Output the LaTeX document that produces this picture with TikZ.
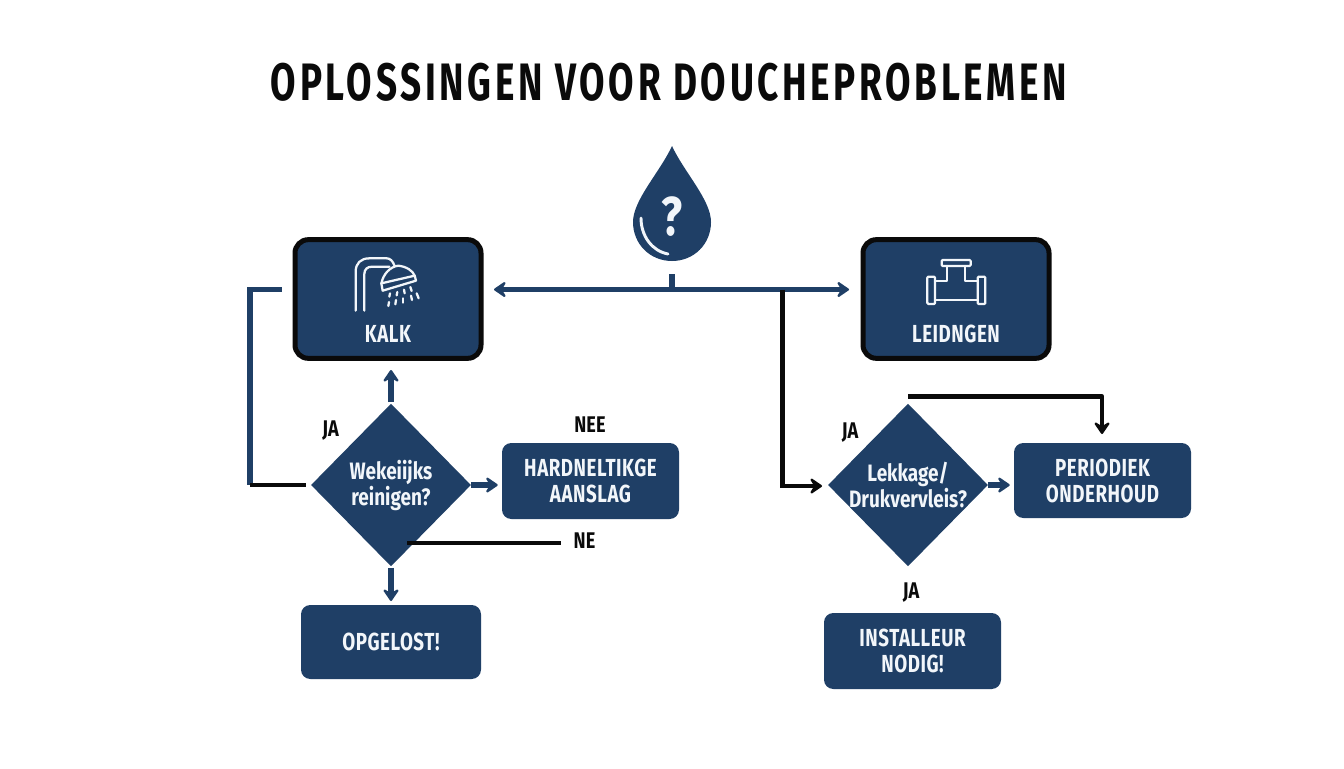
\documentclass[tikz,border=0pt]{standalone}
\usepackage{fontspec}
\usetikzlibrary{arrows.meta,shapes.geometric,calc}
\newfontfamily\cond[FakeStretch=0.76,LetterSpace=2.2]{Fira Sans}
\newfontfamily\condlow[FakeStretch=0.80]{Fira Sans}
\newfontfamily\condtitle[FakeStretch=0.70,LetterSpace=7]{Fira Sans}
\definecolor{navy}{HTML}{1F3F66}
\definecolor{ink}{HTML}{0A0A0A}
\definecolor{paper}{HTML}{F2F6FA}
\tikzset{
  x=0.75pt,y=-0.75pt,
  boxbase/.style={fill=navy,text=paper,align=center,inner sep=0pt,font=\cond\bfseries\fontsize{18.5}{19.5}\selectfont},
  bluebox/.style={boxbase,rounded corners=7pt},
  catbox/.style={boxbase,draw=ink,line width=3.75pt,rounded corners=10pt},
  decision/.style={diamond,fill=navy,inner sep=0pt,shape aspect=1},
  dectext/.style={text=paper,align=center,inner sep=0pt,font=\condlow\bfseries\fontsize{17.8}{19.5}\selectfont},
  tag/.style={text=ink,inner sep=0pt,font=\condlow\bfseries\fontsize{17}{18}\selectfont},
  navyline/.style={draw=navy,line width=3.8pt},
  blackline/.style={draw=ink,line width=3.3pt},
  navyarrow/.style={navyline,-{Stealth[length=11pt,width=15pt,inset=4.5pt,round]}},
  blackarrow/.style={blackline,-{Stealth[length=11pt,width=15pt,inset=4.5pt,round]}},
  iconline/.style={draw=paper,line width=1.7pt,line join=round,line cap=round},
}
\begin{document}
\begin{tikzpicture}
\useasboundingbox (0,0) rectangle (1344,768);
\fill[white] (0,0) rectangle (1344,768);

\node[text=ink,font=\condtitle\bfseries\fontsize{39.5}{44}\selectfont,inner sep=0pt] (title) at (669,82) {OPLOSSINGEN VOOR DOUCHEPROBLEMEN};

% drop
\fill[navy] (672,146) .. controls (660,172) and (633,200) .. (633,222)
  .. controls (633,244) and (650,261) .. (672,261)
  .. controls (694,261) and (711,244) .. (711,222)
  .. controls (711,200) and (684,172) .. (672,146) -- cycle;
\draw[draw=paper,line width=2.2pt,line cap=round] (641,218) .. controls (641,236) and (652,251) .. (668,254);
\node[text=paper,font=\condlow\bfseries\fontsize{41}{44}\selectfont,inner sep=0pt] (q) at (672,217) {?};

% category boxes
\node[catbox,minimum width=139.5pt,minimum height=89pt] (kalk) at (388,299) {};
\node[catbox,minimum width=139.5pt,minimum height=89pt] (leid) at (956,299) {};
\node[text=paper,inner sep=0pt,font=\cond\bfseries\fontsize{18.5}{19.5}\selectfont] (kalktext) at (388,334) {KALK};
\node[text=paper,inner sep=0pt,font=\cond\bfseries\fontsize{18.5}{19.5}\selectfont] (leidtext) at (956,334) {LEIDNGEN};

% shower icon
\begin{scope}[shift={(240,130)},x=0.25pt,y=-0.25pt]
  \draw[iconline] (347,542) -- (347,425) .. controls (347,400) and (362,385) .. (388,385) -- (440,385) .. controls (450,385) and (458,392) .. (464,408);
  \draw[iconline] (373,542) -- (373,432) .. controls (373,418) and (382,410) .. (396,410) -- (448,410);
  \draw[iconline] (424,460) .. controls (430,432) and (450,410) .. (475,407) .. controls (500,410) and (518,422) .. (524,437) -- cycle;
  \draw[iconline] (424,460) -- (428,482) -- (528,452) -- (524,437);
  \foreach \a/\b/\c/\d in {450/490/448/500,472/486/470/496,492/479/494/490,511/471/515/483,
    447/516/445/528,468/510/466/523,490/505/490/518,513/497/516/510,530/490/536/505}
    \draw[iconline] (\a,\b) -- (\c,\d);
\end{scope}

% pipe icon
\begin{scope}[shift={(770,230)},x=0.25pt,y=-0.25pt]
  \draw[iconline,rounded corners=0.8pt] (515,90) rectangle (602,108);
  \draw[iconline,rounded corners=0.8pt] (472,140) rectangle (495,222);
  \draw[iconline,rounded corners=0.8pt] (623,140) rectangle (646,222);
  \draw[iconline] (495,152) -- (532,152) -- (532,108);
  \draw[iconline] (586,108) -- (586,152) -- (623,152);
  \draw[iconline] (495,210) -- (623,210);
\end{scope}

% decisions
\node[decision,minimum width=120pt,minimum height=122pt,label={[dectext]center:Wekeiijks\\reinigen?}] (wk) at (391,485) {};
\node[decision,minimum width=120pt,minimum height=122pt,label={[dectext]center:Lekkage/\\Drukvervleis?}] (lk) at (908,485) {};

% result boxes
\node[bluebox,minimum width=132.75pt,minimum height=57pt] (hard) at (590.5,481) {HARDNELTIKGE\\AANSLAG};
\node[bluebox,minimum width=135pt,minimum height=55.5pt] (opg) at (391,642) {OPGELOST!};
\node[bluebox,minimum width=132.75pt,minimum height=56.25pt] (per) at (1102.5,480.5) {PERIODIEK\\ONDERHOUD};
\node[bluebox,minimum width=132.75pt,minimum height=57pt] (inst) at (912.5,651) {INSTALLEUR\\NODIG!};

% tags
\node[tag] (t1) at (330.5,430.5) {JA};
\node[tag] (t2) at (590,425) {NEE};
\node[tag] (t3) at (584.5,541) {NE};
\node[tag] (t4) at (850,432.5) {JA};
\node[tag] (t5) at (911,593) {JA};

% named ends and bends
\coordinate (bus) at (672,289.5);
\coordinate (stemtop) at (672,274);
\coordinate (kalkin) at (494,289.5);
\coordinate (leidin) at (849,289.5);
\coordinate (kalkout) at (281.5,289.5);
\coordinate (bendL) at (250,289.5);
\coordinate (bendLb) at (250,485);
\coordinate (wkleft) at (306,485);
\coordinate (neA) at (407,543);
\coordinate (neB) at (561,543);
\coordinate (branch) at (782.5,289.5);
\coordinate (branchb) at (782.5,486);
\coordinate (lkin) at (822,486);
\coordinate (lktop) at (908,396.5);
\coordinate (perbend) at (1102,396.5);
\coordinate (perin) at (1102,434);

% connectors
\draw[navyline] (stemtop) -- (bus);
\draw[navyarrow] (bus) -- (kalkin);
\draw[navyarrow] (bus) -- (leidin);
\draw[navyline] (kalkout) -- (bendL) -- (bendLb);
\draw[blackline] (bendLb) -- (wkleft);
\draw[navyarrow,shorten <=1pt] (wk.north) -- (391,370);
\draw[navyarrow,shorten >=3pt] (wk.east) -- (wk.east -| hard.west);
\draw[navyarrow,shorten <=1pt] (wk.south) -- (391,601);
\draw[blackline] (neA) -- (neB);
\draw[blackarrow] (branch) -- (branchb) -- (lkin);
\draw[navyarrow,shorten >=3pt] (lk.east) -- (lk.east -| per.west);
\draw[blackarrow,line join=round] (lktop) -- (perbend) -- (perin);
\end{tikzpicture}
\end{document}
